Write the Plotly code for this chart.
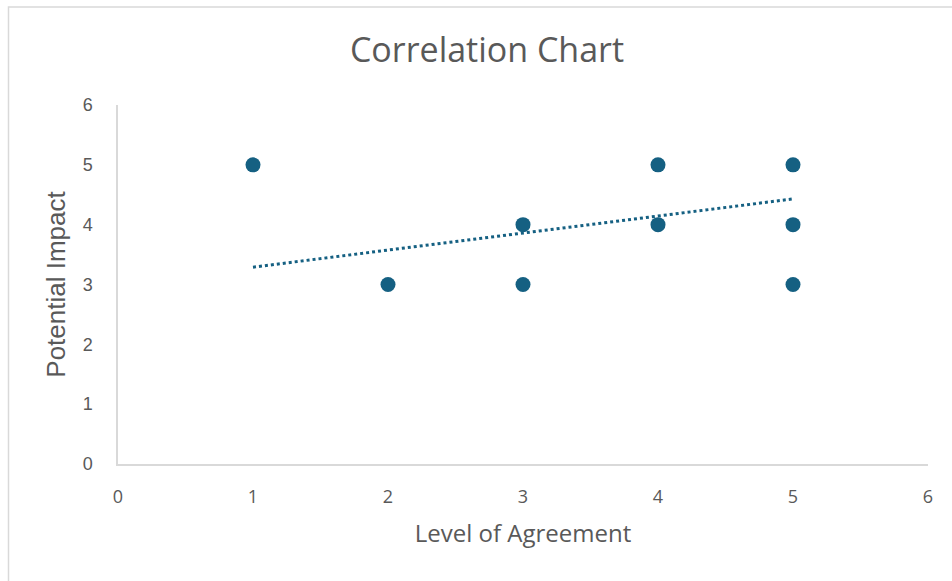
import plotly.graph_objects as go

agreement = [1, 2, 3, 3, 4, 4, 5, 5, 5]
impact = [5, 3, 4, 3, 5, 4, 5, 4, 3]
trend_x = [1, 5]
trend_y = [3.29, 4.43]
ticks = [0, 1, 2, 3, 4, 5, 6]

color = "#156082"
gray_text = "#595959"
axis_gray = "#d9d9d9"

fig = go.Figure()
fig.add_trace(go.Scatter(x=trend_x, y=trend_y, mode="lines",
                         line=dict(color=color, width=3, dash="dot"),
                         hoverinfo="skip", showlegend=False))
fig.add_trace(go.Scatter(x=agreement, y=impact, mode="markers",
                         marker=dict(color=color, size=15, line=dict(width=0)),
                         showlegend=False))

L, R, T, B = 118, 24, 105, 117
W, H = 952, 581
pw = W - L - R
ph = H - T - B

fig.update_layout(
    width=W, height=H,
    margin=dict(l=L, r=R, t=T, b=B),
    paper_bgcolor="white", plot_bgcolor="white",
    title=dict(text="Correlation Chart", x=487 / W, xref="container", xanchor="center",
               y=1 - 50 / H, yref="container", yanchor="middle",
               font=dict(family="Open Sans", size=34, color=gray_text)),
    font=dict(family="Liberation Sans", color=gray_text),
    xaxis=dict(range=[0, 6], tickvals=ticks, showgrid=False, zeroline=False,
               showline=True, linecolor=axis_gray, linewidth=1.5,
               ticks="", ticklabelstandoff=16,
               tickfont=dict(family="Open Sans", size=18, color=gray_text),
               title=dict(text="Level of Agreement", standoff=18,
                          font=dict(family="Open Sans", size=24, color=gray_text))),
    yaxis=dict(range=[0, 6], tickvals=ticks, showgrid=False, zeroline=False,
               showline=True, linecolor=axis_gray, linewidth=1.5,
               ticks="", ticklabelstandoff=20,
               tickfont=dict(family="Liberation Sans", size=18, color=gray_text),
               title=dict(text="Potential Impact", standoff=10,
                          font=dict(family="Liberation Sans", size=26, color=gray_text))),
)

# chart border
fig.add_shape(type="rect", xref="paper", yref="paper",
              x0=(8.5 - L) / pw, x1=(W + 10 - L) / pw,
              y0=(H - B - (H + 10)) / ph, y1=(H - B - 7) / ph,
              line=dict(color=axis_gray, width=1.5), fillcolor="rgba(0,0,0,0)",
              layer="below")

fig.write_html("out.html", config={"displayModeBar": False},
               post_script="document.body.style.margin='0';document.body.style.overflow='hidden';")
